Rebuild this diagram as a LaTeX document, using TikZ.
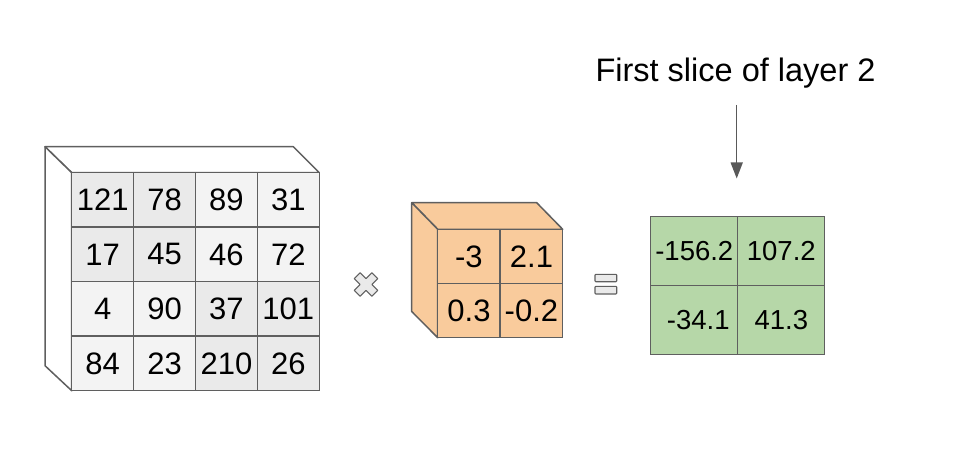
\documentclass[tikz,border=0pt]{standalone}
\usepackage{fontspec}
\setmainfont{Liberation Sans}
\usetikzlibrary{arrows.meta}
\definecolor{edge}{HTML}{5F5F5F}
\definecolor{cellA}{HTML}{F3F3F3}
\definecolor{cellB}{HTML}{EAEAEA}
\definecolor{orng}{HTML}{F9CB9C}
\definecolor{grn}{HTML}{B6D7A8}
\definecolor{arr}{HTML}{595959}
\tikzset{
  big/.style={draw=edge, line width=1.5pt, minimum width=61.9pt, minimum height=54.5pt, inner sep=0pt, font=\fontsize{31}{36}\selectfont, anchor=center},
  lt/.style={big, fill=cellA},
  dk/.style={big, fill=cellB},
  orc/.style={draw=edge, line width=1.5pt, fill=orng, minimum width=62.5pt, minimum height=54.2pt, inner sep=0pt, font=\fontsize{31}{36}\selectfont},
  grc/.style={draw=edge, line width=1.3pt, fill=grn, minimum width=87pt, minimum height=69pt, inner sep=0pt, font=\fontsize{27.5}{32}\selectfont},
  face/.style={draw=edge, line width=1.5pt, line join=round},
  sym/.style={draw=edge, line width=1.1pt, fill=cellB},
}
\begin{document}
\begin{tikzpicture}[x=1pt,y=-1pt]
\useasboundingbox (0,0) rectangle (960,473);
% big cube faces
\draw[face, fill=white] (45,146.7) -- (293.3,146.7) -- (319.3,172.7) -- (71.7,172.7) -- cycle;
\draw[face, fill=white] (45,146.7) -- (71.7,172.7) -- (71.7,390.7) -- (45,365.7) -- cycle;
% big grid cells
\node[dk] (a11) at (102.65,199.95) {121};
\node[dk] (a12) at (164.55,199.95) {78};
\node[lt] (a13) at (226.45,199.95) {89};
\node[lt] (a14) at (288.35,199.95) {31};
\node[dk] (a21) at (102.65,254.45) {17};
\node[dk] (a22) at (164.55,254.45) {45};
\node[lt] (a23) at (226.45,254.45) {46};
\node[lt] (a24) at (288.35,254.45) {72};
\node[lt] (a31) at (102.65,308.95) {4};
\node[lt] (a32) at (164.55,308.95) {90};
\node[dk] (a33) at (226.45,308.95) {37};
\node[dk] (a34) at (288.35,308.95) {101};
\node[lt] (a41) at (102.65,363.45) {84};
\node[lt] (a42) at (164.55,363.45) {23};
\node[dk] (a43) at (226.45,363.45) {210};
\node[dk] (a44) at (288.35,363.45) {26};
% times symbol
\begin{scope}[shift={(366,284.5)}, rotate=45]
\draw[sym, line join=round] (4.2,12.5) -- (4.2,4.2) -- (12.5,4.2) -- (12.5,-4.2) -- (4.2,-4.2) -- (4.2,-12.5) -- (-4.2,-12.5) -- (-4.2,-4.2) -- (-12.5,-4.2) -- (-12.5,4.2) -- (-4.2,4.2) -- (-4.2,12.5) -- cycle;
\end{scope}
% small cube faces
\draw[face, fill=orng] (411.7,202.7) -- (536.7,202.7) -- (562.7,229.3) -- (437.7,229.3) -- cycle;
\draw[face, fill=orng] (411.7,202.7) -- (437.7,229.3) -- (437.7,337.7) -- (411.7,311.5) -- cycle;
\node[orc] (b11) at (468.95,256.4) {-3};
\node[orc] (b12) at (531.45,256.4) {2.1};
\node[orc] (b21) at (468.95,310.6) {0.3};
\node[orc] (b22) at (531.45,310.6) {-0.2};
% equals symbol
\draw[sym, rounded corners=0.8pt] (595,274.3) rectangle (616.7,281.7);
\draw[sym, rounded corners=0.8pt] (595,286.3) rectangle (616.7,294);
% green grid
\node[grc] (c11) at (694.3,250.8) {-156.2};
\node[grc] (c12) at (781.3,250.8) {107.2};
\node[grc] (c21) at (694.3,320) {\hspace*{8pt}-34.1};
\node[grc] (c22) at (781.3,320) {41.3};
% title and arrow
\node[font=\fontsize{32.5}{39}\selectfont, inner sep=0pt, anchor=base] (title) at (735.5,81.7) {First slice of layer 2};
\coordinate (as) at (736.7,105);
\coordinate (ae) at (736.7,178.5);
\draw[arr, line width=1.4pt, -{Triangle[length=16pt,width=12pt]}] (as) -- (ae);
\end{tikzpicture}
\end{document}
